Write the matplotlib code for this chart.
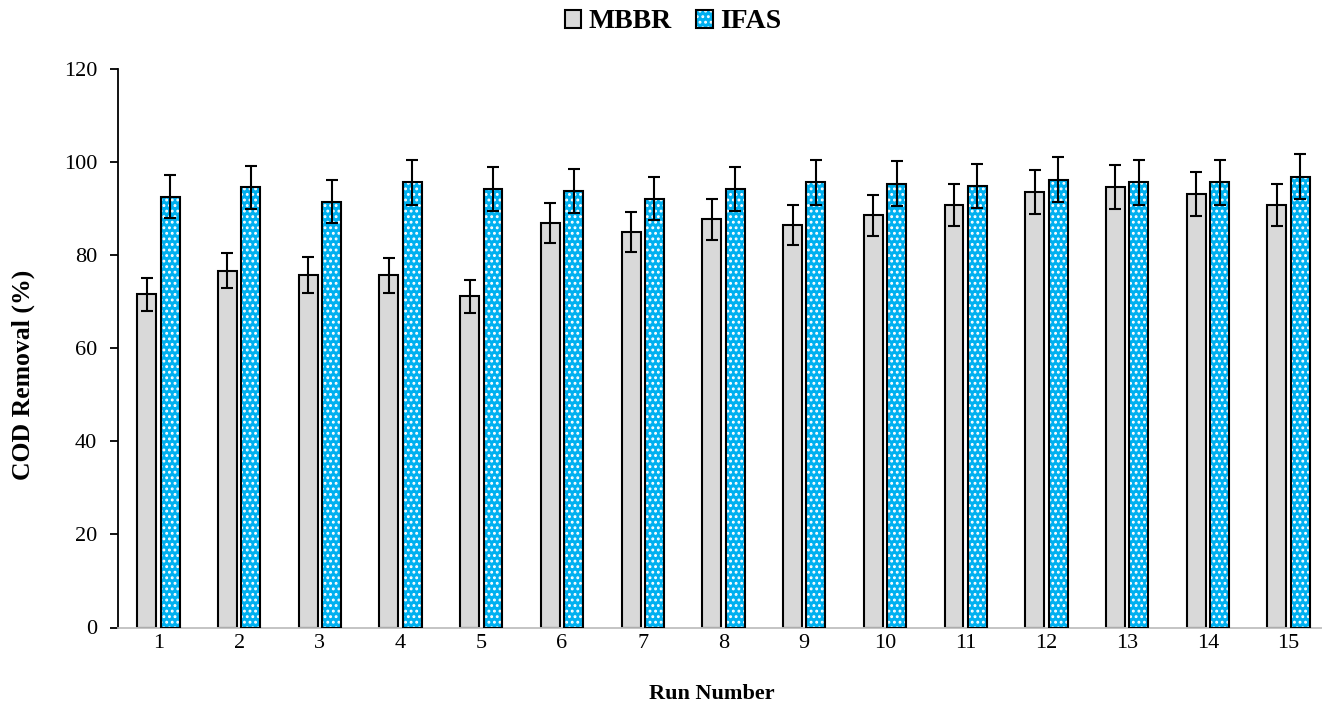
import numpy as np
import matplotlib
matplotlib.use('Agg')
import matplotlib.pyplot as plt
from matplotlib.legend_handler import HandlerTuple

plt.rcParams['font.family'] = ['Liberation Serif', 'DejaVu Serif']
plt.rcParams['hatch.linewidth'] = 1.3

runs = [str(i) for i in range(1, 16)]
mbbr = [71.6, 76.7, 75.8, 75.7, 71.2, 87.0, 85.1, 87.8, 86.5, 88.6, 90.9, 93.7, 94.7, 93.2, 90.9]
mbbr_err = [3.6, 3.8, 3.8, 3.8, 3.6, 4.3, 4.3, 4.4, 4.3, 4.4, 4.5, 4.7, 4.7, 4.7, 4.5]
ifas = [92.6, 94.6, 91.5, 95.7, 94.3, 93.9, 92.2, 94.2, 95.7, 95.4, 94.9, 96.3, 95.7, 95.7, 96.9]
ifas_err = [4.6, 4.7, 4.6, 4.8, 4.7, 4.7, 4.6, 4.7, 4.8, 4.8, 4.7, 4.8, 4.8, 4.8, 4.8]

gray = '#D9D9D9'
blue = '#00B0F0'

fig = plt.figure(figsize=(13.22, 7.07), dpi=100)
ax = fig.add_axes([118/1322, 79.5/707, 1211/1322, 558.2/707])

x = np.arange(1, len(runs) + 1)
w = 0.235
off = 0.145

b1 = ax.bar(x - off, mbbr, w, color=gray, edgecolor='black', linewidth=1.5, zorder=2)
# blue bars: white dotted fill, then a black outline on top
b2 = ax.bar(x + off, ifas, w, color=blue, edgecolor='white', linewidth=0, hatch='...', zorder=2)
b2o = ax.bar(x + off, ifas, w, fill=False, edgecolor='black', linewidth=1.5, zorder=3)

ax.errorbar(x - off, mbbr, yerr=mbbr_err, fmt='none', ecolor='black', elinewidth=1.5,
            capsize=4.5, capthick=1.5, zorder=4)
ax.errorbar(x + off, ifas, yerr=ifas_err, fmt='none', ecolor='black', elinewidth=1.5,
            capsize=4.5, capthick=1.5, zorder=4)

ax.set_xlim(0.5, 15.5)
ax.set_ylim(0, 120)
ax.set_yticks(np.arange(0, 121, 20))
ax.set_xticks(x)
ax.set_xticklabels(runs)
ax.tick_params(axis='y', direction='out', length=6, width=1.3, labelsize=16, pad=9)
ax.tick_params(axis='x', length=0, labelsize=16, pad=5)

for s in ['top', 'right']:
    ax.spines[s].set_visible(False)
ax.spines['left'].set_linewidth(1.3)
ax.spines['bottom'].set_color('#BFBFBF')
ax.spines['bottom'].set_linewidth(1.3)

ax.set_ylabel('COD Removal (%)', fontsize=18.5, fontweight='bold')
ax.yaxis.set_label_coords(-95/1211, (628 - 375) / 558)
ax.set_xlabel('Run Number', fontsize=16, fontweight='bold')
ax.xaxis.set_label_coords((712 - 118) / 1211, -(694 - 628) / 558)
ax.xaxis.label.set_verticalalignment('center')
ax.yaxis.label.set_verticalalignment('center')

fig.legend([b1, (b2, b2o)], ['MBBR', 'IFAS'], loc='center', bbox_to_anchor=(0.509, 1 - 22/707),
           ncol=2, frameon=False, handlelength=0.6, handleheight=0.6, handletextpad=0.25,
           columnspacing=0.9, prop={'weight': 'bold', 'size': 20},
           handler_map={tuple: HandlerTuple(ndivide=1, pad=0)})

fig.savefig('out.png', dpi=100)
